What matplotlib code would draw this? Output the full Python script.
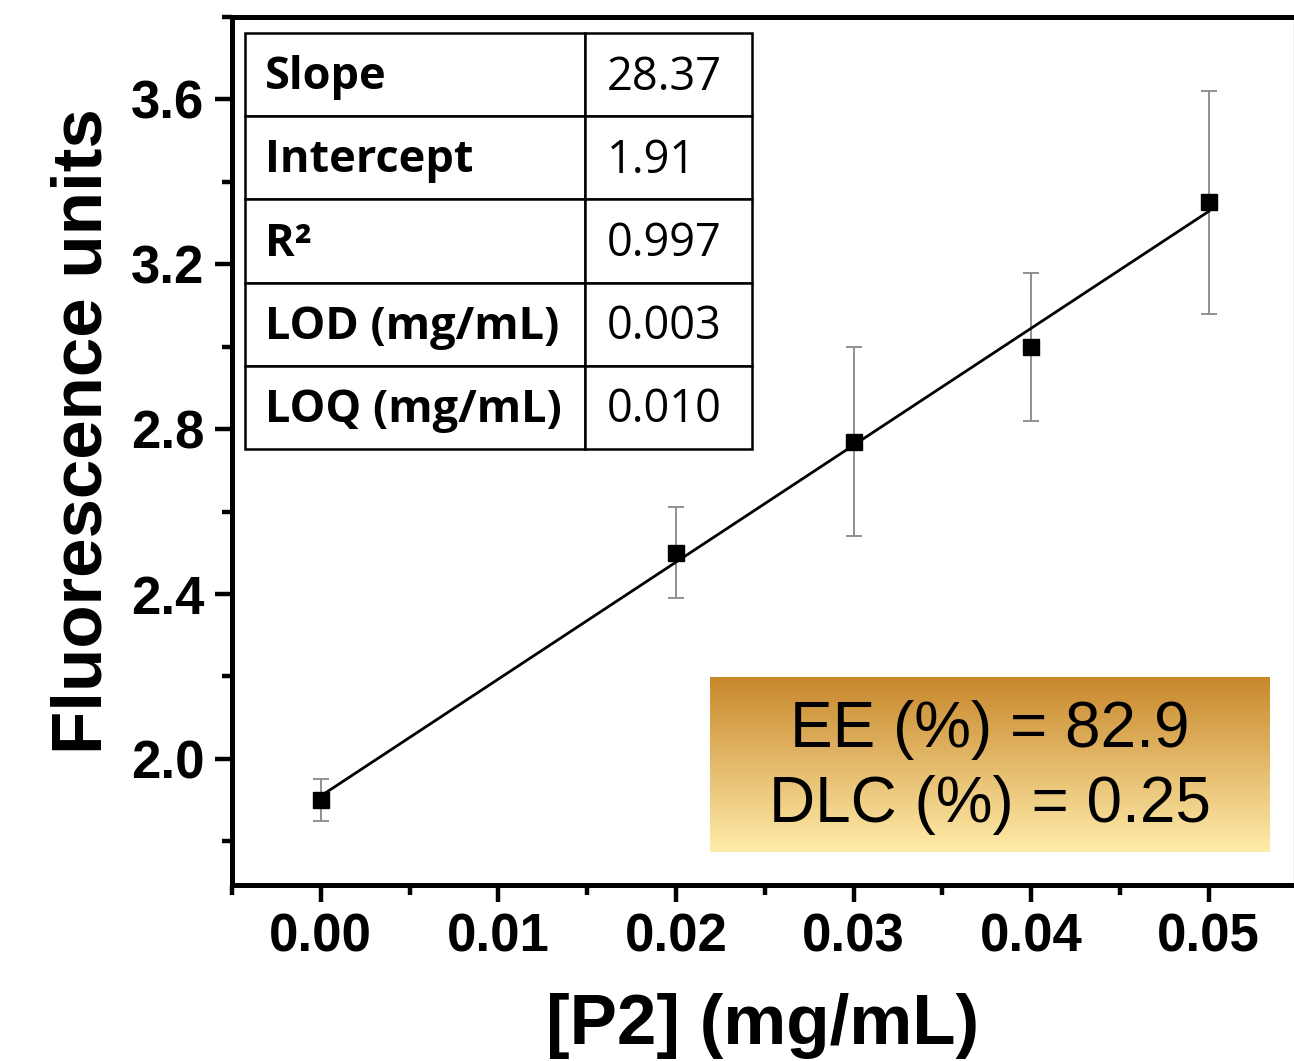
import numpy as np
import matplotlib.pyplot as plt
from matplotlib.patches import Rectangle
from matplotlib.ticker import MultipleLocator

# data
conc = [0.00, 0.02, 0.03, 0.04, 0.05]
fluor = [1.90, 2.50, 2.77, 3.00, 3.35]
fluor_err = [0.05, 0.11, 0.23, 0.18, 0.27]

slope = 28.37
intercept = 1.91

table_labels = ["Slope", "Intercept", "R²", "LOD (mg/mL)", "LOQ (mg/mL)"]
table_values = ["28.37", "1.91", "0.997", "0.003", "0.010"]

box_lines = ["EE (%) = 82.9", "DLC (%) = 0.25"]

W, H = 1294, 1061
fig = plt.figure(figsize=(W / 100, H / 100), dpi=100)
ax = fig.add_axes([232 / W, (H - 885) / H, (W - 232) / W, (885 - 17) / H])

sans = "Liberation Sans"

# error bars + squares
ax.errorbar(conc, fluor, yerr=fluor_err, fmt="none", ecolor="#888888",
            elinewidth=1.3, capsize=6, capthick=1.3, zorder=2)
ax.plot(conc, fluor, "s", color="black", ms=12, zorder=4)

# linear fit
xf = np.array([conc[0], conc[-1]])
ax.plot(xf, intercept + slope * xf, color="black", lw=2.0, zorder=3)

ax.xaxis.set_minor_locator(MultipleLocator(0.005))
ax.yaxis.set_minor_locator(MultipleLocator(0.2))
ax.set_xticks([0.0, 0.01, 0.02, 0.03, 0.04, 0.05])
ax.set_xticklabels(["0.00", "0.01", "0.02", "0.03", "0.04", "0.05"])
ax.set_yticks([2.0, 2.4, 2.8, 3.2, 3.6])
ax.set_yticklabels(["2.0", "2.4", "2.8", "3.2", "3.6"])

ax.tick_params(which="major", direction="out", length=12, width=3.2, pad=8)
ax.tick_params(which="minor", direction="out", length=7, width=3.2)
for lab in ax.get_xticklabels() + ax.get_yticklabels():
    lab.set_fontfamily(sans)
    lab.set_fontweight("bold")
    lab.set_fontsize(38)

for s in ["left", "bottom", "top"]:
    ax.spines[s].set_linewidth(3.6)
ax.spines["right"].set_color("#bbbbbb")
ax.spines["right"].set_linewidth(1)

ax.set_xlabel("[P2] (mg/mL)", fontfamily=sans, fontweight="bold",
              fontsize=51, labelpad=22)
ax.set_ylabel("Fluorescence units", fontfamily=sans, fontweight="bold",
              fontsize=51, labelpad=10, y=0.523)

# table in upper left
ax_w = W - 232
ax_h = 885 - 17
tx0 = (245 - 232) / ax_w
tx1 = (585 - 232) / ax_w
tx2 = (752 - 232) / ax_w
ty_top = (885 - 33) / ax_h
row_h = 83.2 / ax_h
tf = "Open Sans"
for i, (lab, val) in enumerate(zip(table_labels, table_values)):
    y0 = ty_top - (i + 1) * row_h
    ax.add_patch(Rectangle((tx0, y0), tx1 - tx0, row_h, transform=ax.transAxes,
                           facecolor="white", edgecolor="black", lw=1.8, zorder=6))
    ax.add_patch(Rectangle((tx1, y0), tx2 - tx1, row_h, transform=ax.transAxes,
                           facecolor="white", edgecolor="black", lw=1.8, zorder=6))
    ax.text(tx0 + 20 / ax_w, y0 + row_h / 2 - 3 / ax_h, lab, transform=ax.transAxes,
            fontfamily=tf, fontweight="bold", fontsize=32.5, va="center",
            ha="left", zorder=7)
    ax.text(tx1 + 22 / ax_w, y0 + row_h / 2 - 3 / ax_h, val, transform=ax.transAxes,
            fontfamily=tf, fontsize=32.5, va="center", ha="left", zorder=7)

# gradient box with EE / DLC
bx0 = (710 - 232) / ax_w
bx1 = (1270 - 232) / ax_w
by0 = (885 - 852) / ax_h
by1 = (885 - 677) / ax_h
top_c = np.array([200, 136, 44]) / 255
bot_c = np.array([255, 236, 170]) / 255
t = np.linspace(0, 1, 256)[:, None]
grad = (top_c * (1 - t) + bot_c * t)[:, None, :]
ax.imshow(grad, extent=[bx0, bx1, by0, by1], transform=ax.transAxes,
          aspect="auto", origin="upper", zorder=5)
bxc = (990 - 232) / ax_w
ax.text(bxc, (885 - 730) / ax_h, box_lines[0], transform=ax.transAxes,
        fontfamily=sans, fontsize=46, ha="center", va="center", zorder=7)
ax.text(bxc, (885 - 805) / ax_h, box_lines[1], transform=ax.transAxes,
        fontfamily=sans, fontsize=46, ha="center", va="center", zorder=7)

ax.set_xlim(-0.005, 0.0548)
ax.set_ylim(1.694, 3.80)

fig.savefig("out.png", dpi=100)
